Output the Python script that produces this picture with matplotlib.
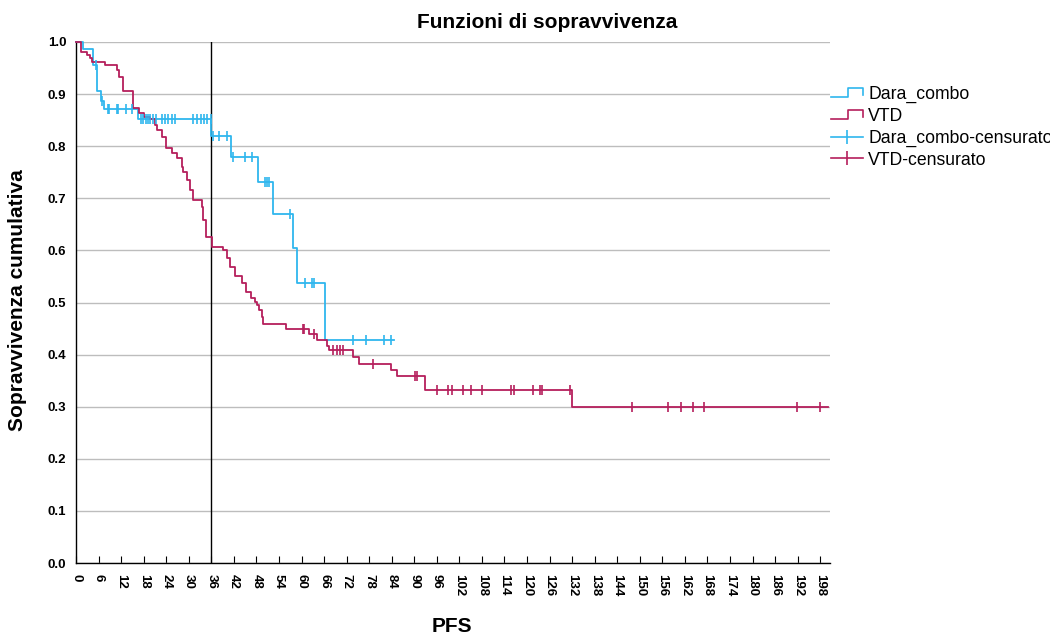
import numpy as np
import matplotlib
matplotlib.use("Agg")
import matplotlib.pyplot as plt
from matplotlib.lines import Line2D
from matplotlib.legend_handler import HandlerBase

plt.rcParams['font.family'] = ['Liberation Sans', 'DejaVu Sans']

# Kaplan-Meier steps (time in months, survival after the drop)
dara_t = [0, 1.8, 4.6, 5.5, 6.6, 7.5, 16.6, 36.0, 41.2, 48.5, 52.3, 57.6, 58.7, 66.2]
dara_s = [1.0, 0.987, 0.956, 0.905, 0.887, 0.871, 0.852, 0.819, 0.780, 0.732, 0.670, 0.605, 0.537, 0.428]
dara_end = 84.7
dara_cens = [5.3, 6.8, 8.4, 8.9, 10.8, 11.3, 13.2, 14.8,
             17.2, 17.9, 18.5, 19.1, 19.7, 20.4, 21.2, 22.8, 23.7, 24.6, 25.5, 26.3,
             31.2, 32.3, 33.2, 34.1, 34.9, 35.8,
             36.5, 38.1, 40.1, 41.9, 45.0, 46.8, 50.3, 50.9, 51.4, 57.0,
             60.9, 62.7, 63.3, 73.6, 77.1, 82.0, 83.7]

vtd_t = [0, 1.2, 2.8, 3.7, 4.2, 7.7, 10.8, 11.5, 12.6, 15.1, 16.8, 18.1, 19.7, 21.0,
         21.5, 22.8, 24.0, 25.5, 26.8, 28.1, 28.6, 29.4, 30.3, 31.2, 33.4, 33.9, 34.6,
         36.1, 39.2, 40.1, 41.0, 42.3, 44.1, 45.2, 46.5, 47.6, 48.1, 48.8, 49.4, 49.8,
         55.9, 62.1, 64.0, 66.7, 67.4, 73.6, 75.4, 83.7, 85.5, 92.9, 131.9]
vtd_s = [1.0, 0.981, 0.975, 0.969, 0.962, 0.956, 0.946, 0.933, 0.905, 0.873, 0.863, 0.856,
         0.852, 0.841, 0.831, 0.818, 0.797, 0.787, 0.777, 0.761, 0.751, 0.735, 0.716,
         0.697, 0.684, 0.658, 0.626, 0.607, 0.601, 0.585, 0.569, 0.550, 0.537, 0.521,
         0.508, 0.501, 0.495, 0.486, 0.473, 0.459, 0.449, 0.440, 0.428, 0.416, 0.408,
         0.396, 0.382, 0.370, 0.359, 0.332, 0.299]
vtd_end = 200.2
vtd_cens = [60.3, 60.7, 63.3, 68.5, 69.4, 70.2, 71.1, 78.9, 90.2, 90.8,
            96.0, 99.1, 100.0, 102.9, 105.0, 108.0, 115.8, 116.4, 121.7, 123.5, 124.1, 131.3,
            147.9, 157.6, 160.9, 164.1, 167.1, 191.8, 198.0]

x_ticks = list(range(0, 199, 6))
y_ticks = [0.0, 0.1, 0.2, 0.3, 0.4, 0.5, 0.6, 0.7, 0.8, 0.9, 1.0]

blue = '#2FB6EE'
red = '#B51F5C'


def surv_at(t, s, times):
    idx = np.searchsorted(t, times, side='right') - 1
    return np.asarray(s)[idx]


class StepHandler(HandlerBase):
    # little step glyph like the SPSS legend
    def create_artists(self, legend, orig_handle, xdescent, ydescent, width, height, fontsize, trans):
        x0 = -xdescent
        y0 = -ydescent
        xs = [x0, x0 + 0.55 * width, x0 + 0.55 * width, x0 + width, x0 + width]
        ys = [y0 + 0.15 * height, y0 + 0.15 * height, y0 + 0.9 * height, y0 + 0.9 * height, y0 + 0.3 * height]
        ln = Line2D(xs, ys, color=orig_handle.get_color(), lw=1.2)
        ln.set_transform(trans)
        return [ln]


fig = plt.figure(figsize=(10.5, 6.35), dpi=100)
ax = fig.add_axes([76 / 1050, 1 - 563 / 635, (830 - 76) / 1050, (563 - 42) / 635])

ax.step(dara_t + [dara_end], dara_s + [dara_s[-1]], where='post', color=blue, lw=1.3, clip_on=False, zorder=3)
ax.step(vtd_t + [vtd_end], vtd_s + [vtd_s[-1]], where='post', color=red, lw=1.3, clip_on=False, zorder=3)
ax.plot(dara_cens, surv_at(dara_t, dara_s, dara_cens), ls='none', marker='|', ms=7, mew=1.2, color=blue, zorder=4)
ax.plot(vtd_cens, surv_at(vtd_t, vtd_s, vtd_cens), ls='none', marker='|', ms=7, mew=1.2, color=red, zorder=4)

ax.axvline(36, color='black', lw=1.0, zorder=2)

ax.set_xlim(0, 200.6)
ax.set_ylim(0, 1.0)
ax.set_xticks(x_ticks)
ax.set_xticklabels([str(v) for v in x_ticks], rotation=-90, fontsize=9.5, fontweight='bold')
ax.set_yticks(y_ticks)
ax.set_yticklabels(['%.1f' % v for v in y_ticks], fontsize=9.5, fontweight='bold')
ax.tick_params(axis='x', direction='in', length=5, width=0.8, pad=8)
ax.tick_params(axis='y', length=0, pad=7)
ax.yaxis.grid(True, color='#BDBDBD', lw=1.0)
ax.set_axisbelow(True)
for side in ['top', 'right']:
    ax.spines[side].set_visible(False)
for side in ['left', 'bottom']:
    ax.spines[side].set_color('black')
    ax.spines[side].set_linewidth(1.0)

fig.text(547 / 1050, 1 - 22 / 635, 'Funzioni di sopravvivenza', ha='center', va='center',
         fontsize=15, fontweight='bold')
fig.text(18 / 1050, 1 - 300 / 635, 'Sopravvivenza cumulativa', ha='center', va='center',
         rotation=90, fontsize=15, fontweight='bold')
fig.text(452 / 1050, 1 - 626 / 635, 'PFS', ha='center', va='center', fontsize=15, fontweight='bold')

# legend sits at the right edge; the long label runs off the figure as in the original
h1 = Line2D([], [], color=blue)
h2 = Line2D([], [], color=red)
h3 = Line2D([], [], color=blue, lw=1.2, marker='|', ms=10, mew=1.2)
h4 = Line2D([], [], color=red, lw=1.2, marker='|', ms=10, mew=1.2)
fig.legend([h1, h2, h3, h4], ['Dara_combo', 'VTD', 'Dara_combo-censurato', 'VTD-censurato'],
           handler_map={h1: StepHandler(), h2: StepHandler()},
           loc='upper left', bbox_to_anchor=(831 / 1050, 1 - 86 / 635), frameon=False,
           fontsize=12.7, handlelength=1.8, handletextpad=0.3, labelspacing=0.27,
           borderpad=0, borderaxespad=0, numpoints=1)

fig.savefig('out.png', dpi=100)
